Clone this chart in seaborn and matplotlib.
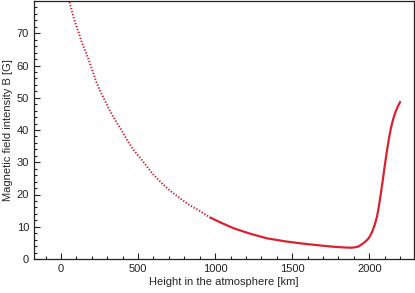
import numpy as np
import pandas as pd
import matplotlib
matplotlib.use("Agg")
import matplotlib.pyplot as plt
import seaborn as sns
from matplotlib.ticker import MultipleLocator

# dotted (extrapolated) part of the profile
h_dot = [45, 52, 67, 84, 102, 117, 138, 160, 181, 203, 225, 252, 278, 304, 333,
         365, 386, 430, 472, 516, 559, 602, 656, 710, 764, 818, 883, 970]
b_dot = [82.0, 80.2, 77.6, 74.5, 71.9, 69.9, 66.8, 64.2, 61.6, 58.5, 55.4, 52.3,
         49.8, 47.2, 44.6, 42.0, 40.5, 36.8, 33.7, 31.2, 28.6, 26.0, 23.4, 21.1,
         19.1, 17.2, 15.4, 12.8]

# solid (model) part
h_sol = [970, 1050, 1122, 1230, 1338, 1450, 1553, 1660, 1769, 1830, 1877, 1905,
         1930, 1950, 1970, 1990, 2006, 2020, 2035, 2050, 2062, 2075, 2088, 2100,
         2114, 2127, 2140, 2155, 2170, 2185, 2200]
b_sol = [12.8, 11.0, 9.5, 7.8, 6.4, 5.5, 4.86, 4.3, 3.8, 3.6, 3.5, 3.6,
         3.9, 4.5, 5.2, 6.1, 7.2, 8.6, 10.6, 13.1, 16.3, 20.3, 24.6, 28.8,
         33.4, 37.2, 40.5, 43.4, 45.6, 47.3, 48.7]

red = "#d92231"

sns.set_style("ticks")
plt.rcParams["font.family"] = ["Liberation Sans", "DejaVu Sans"]

fig = plt.figure(figsize=(4.15, 2.93), dpi=100)
ax = fig.add_axes([34 / 415, 34 / 293, 380 / 415, 258 / 293])

d1 = pd.DataFrame({"h": h_dot, "b": b_dot})
d2 = pd.DataFrame({"h": h_sol, "b": b_sol})
sns.lineplot(data=d1, x="h", y="b", ax=ax, color=red, lw=1.4, sort=False,
             linestyle=(0, (0.7, 0.9)))
sns.lineplot(data=d2, x="h", y="b", ax=ax, color=red, lw=1.6, sort=False)

ax.set_xlim(-175, 2290)
ax.set_ylim(0, 80)
ax.set_xticks([0, 500, 1000, 1500, 2000])
ax.set_yticks([0, 10, 20, 30, 40, 50, 60, 70])
ax.xaxis.set_minor_locator(MultipleLocator(100))
ax.yaxis.set_minor_locator(MultipleLocator(2))
ax.tick_params(which="both", direction="in", labelsize=8, width=0.8, colors="#222222")
ax.tick_params(which="major", length=4)
ax.tick_params(which="minor", length=2.2)
for s in ax.spines.values():
    s.set_linewidth(0.9)
    s.set_color("#222222")

ax.set_xlabel("Height in the atmosphere [km]", fontsize=8, labelpad=2)
ax.set_ylabel("Magnetic field intensity B [G]", fontsize=8, labelpad=3)

plt.savefig("out.png", dpi=100)
